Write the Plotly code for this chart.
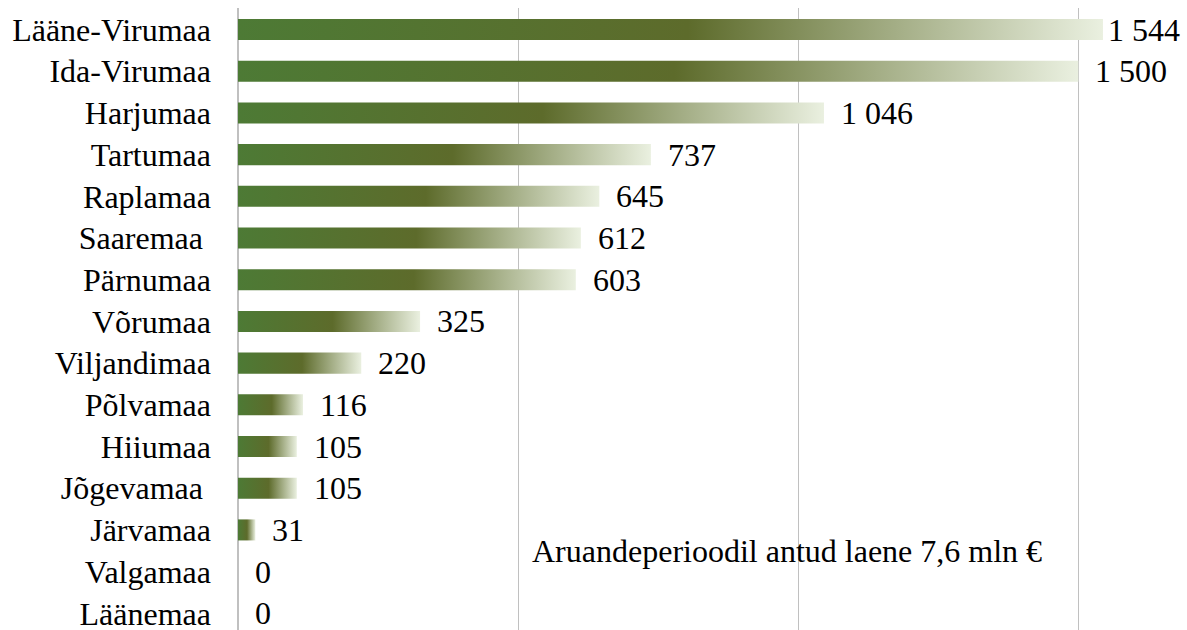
import plotly.graph_objects as go

categories = ["Lääne-Virumaa", "Ida-Virumaa", "Harjumaa", "Tartumaa", "Raplamaa",
              "Saaremaa\u00a0", "Pärnumaa", "Võrumaa", "Viljandimaa", "Põlvamaa",
              "Hiiumaa", "Jõgevamaa\u00a0", "Järvamaa", "Valgamaa", "Läänemaa"]
values = [1544, 1500, 1046, 737, 645, 612, 603, 325, 220, 116, 105, 105, 31, 0, 0]
value_labels = ["1 544", "1 500", "1 046", "737", "645", "612", "603", "325",
                "220", "116", "105", "105", "31", "0", "0"]
note_text = "Aruandeperioodil antud laene 7,6 mln €"

FONT = "Liberation Serif, Times New Roman, serif"
FS = 32
HALF = 0.252
gradient = [[0.0, "#4d7a35"], [0.52, "#5d6b2b"], [1.0, "#eaf0e0"]]

fig = go.Figure()
ypos = list(range(len(categories)))
for i, v in enumerate(values):
    if v <= 0:
        continue
    fig.add_trace(go.Scatter(
        x=[0, v, v, 0, 0],
        y=[i - HALF, i - HALF, i + HALF, i + HALF, i - HALF],
        mode="lines", line=dict(width=0), fill="toself",
        fillgradient=dict(type="horizontal", colorscale=gradient, start=0, stop=v),
        hoverinfo="skip", showlegend=False))

for i, (v, lab) in enumerate(zip(values, value_labels)):
    fig.add_annotation(x=v, y=i, text=lab, showarrow=False, xanchor="left",
                       yanchor="middle", xshift=3 if i == 0 else 15,
                       font=dict(family=FONT, size=FS, color="#000000"))

fig.add_annotation(x=521, y=12.5, text=note_text, showarrow=False,
                   xanchor="left", yanchor="middle",
                   font=dict(family=FONT, size=FS, color="#000000"))

fig.update_layout(
    width=1187, height=630,
    margin=dict(l=238, r=0, t=8, b=0),
    paper_bgcolor="white", plot_bgcolor="white",
    font=dict(family=FONT, size=FS, color="#000000"),
    xaxis=dict(range=[0, 1694], dtick=500, tick0=0, showgrid=True,
               gridcolor="#c0c0c0", gridwidth=1, zeroline=True,
               zerolinecolor="#c0c0c0", zerolinewidth=1.5,
               showticklabels=False, ticks="", fixedrange=True,
               automargin=False),
    yaxis=dict(range=[14.4, -0.516], tickvals=ypos, ticktext=categories,
               showgrid=False, zeroline=False, ticks="",
               ticklabelstandoff=26, automargin=False,
               ticklabeloverflow="allow", fixedrange=True,
               tickfont=dict(family=FONT, size=FS, color="#000000")),
)

fig.write_html("out.html", config={"displayModeBar": False},
               post_script="document.body.style.margin='0';document.body.style.overflow='hidden';")
